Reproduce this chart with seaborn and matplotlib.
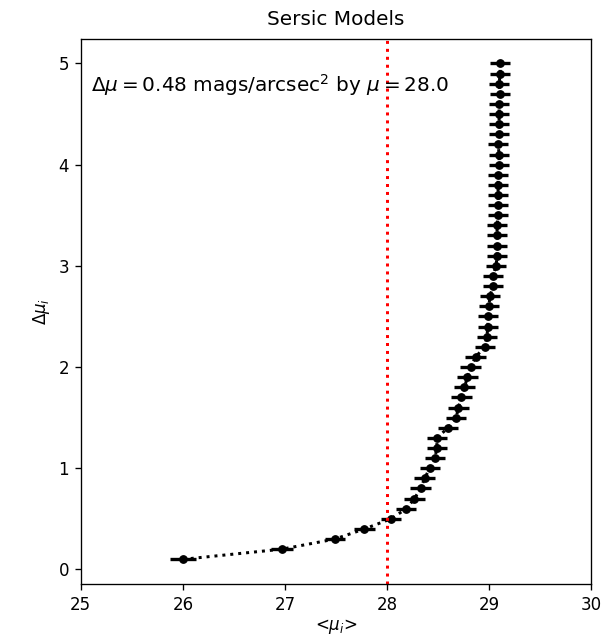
import pandas as pd
import matplotlib
matplotlib.use('Agg')
import matplotlib.pyplot as plt
import seaborn as sns

# Valores
delta_mu = [0.1, 0.2, 0.3, 0.4, 0.5, 0.6, 0.7, 0.8, 0.9, 1.0,
            1.1, 1.2, 1.3, 1.4, 1.5, 1.6, 1.7, 1.8, 1.9, 2.0,
            2.1, 2.2, 2.3, 2.4, 2.5, 2.6, 2.7, 2.8, 2.9, 3.0,
            3.1, 3.2, 3.3, 3.4, 3.5, 3.6, 3.7, 3.8, 3.9, 4.0,
            4.1, 4.2, 4.3, 4.4, 4.5, 4.6, 4.7, 4.8, 4.9, 5.0]
mu_medio = [26.00, 26.97, 27.49, 27.78, 28.04, 28.19, 28.27, 28.33, 28.37, 28.42,
            28.47, 28.49, 28.49, 28.60, 28.68, 28.70, 28.73, 28.76, 28.79, 28.82,
            28.87, 28.96, 28.98, 28.99, 28.99, 29.00, 29.01, 29.04, 29.04, 29.07,
            29.08, 29.08, 29.08, 29.08, 29.09, 29.09, 29.09, 29.09, 29.09, 29.10,
            29.10, 29.09, 29.10, 29.10, 29.10, 29.10, 29.11, 29.10, 29.11, 29.11]
erro_mu = [0.13, 0.11, 0.10, 0.10, 0.10, 0.10, 0.10, 0.10, 0.10, 0.10,
           0.10, 0.10, 0.10, 0.10, 0.10, 0.10, 0.10, 0.10, 0.10, 0.10,
           0.10, 0.10, 0.10, 0.10, 0.10, 0.10, 0.10, 0.10, 0.10, 0.10,
           0.10, 0.10, 0.10, 0.10, 0.10, 0.10, 0.10, 0.10, 0.10, 0.10,
           0.10, 0.10, 0.10, 0.10, 0.10, 0.10, 0.10, 0.10, 0.10, 0.10]
mu_limite = 28.0
dmu_limite = 0.48

df = pd.DataFrame({'mu': mu_medio, 'dmu': delta_mu, 'erro': erro_mu})

fig, ax = plt.subplots(figsize=(6.03 / 1.2, 6.44 / 1.2), dpi=120)
fig.subplots_adjust(left=0.134, right=0.98, bottom=0.093, top=0.94)

# barras de erro horizontais
ax.errorbar(df['mu'], df['dmu'], xerr=df['erro'], fmt='none', ecolor='k', elinewidth=2)
# curva pontilhada com marcadores (sem agregar valores repetidos de x)
sns.lineplot(data=df, x='mu', y='dmu', sort=False, estimator=None, color='k',
             linestyle=':', linewidth=1.8, marker='o', markersize=4.5,
             markeredgecolor='k', ax=ax)

ax.axvline(mu_limite, color='r', linestyle=':', linewidth=1.8)

ax.text(25.1, 4.72, r'$\Delta\mu = %.2f$ mags/arcsec$^2$ by $\mu = %.1f$' % (dmu_limite, mu_limite),
        fontsize=12)

ax.set_xlim(25, 30)
ax.set_title('Sersic Models', pad=8)
ax.set_xlabel(r'<$\mu_i$>', labelpad=2)
ax.set_ylabel(r'$\Delta\mu_i$')

plt.savefig('out.png', dpi=120)
